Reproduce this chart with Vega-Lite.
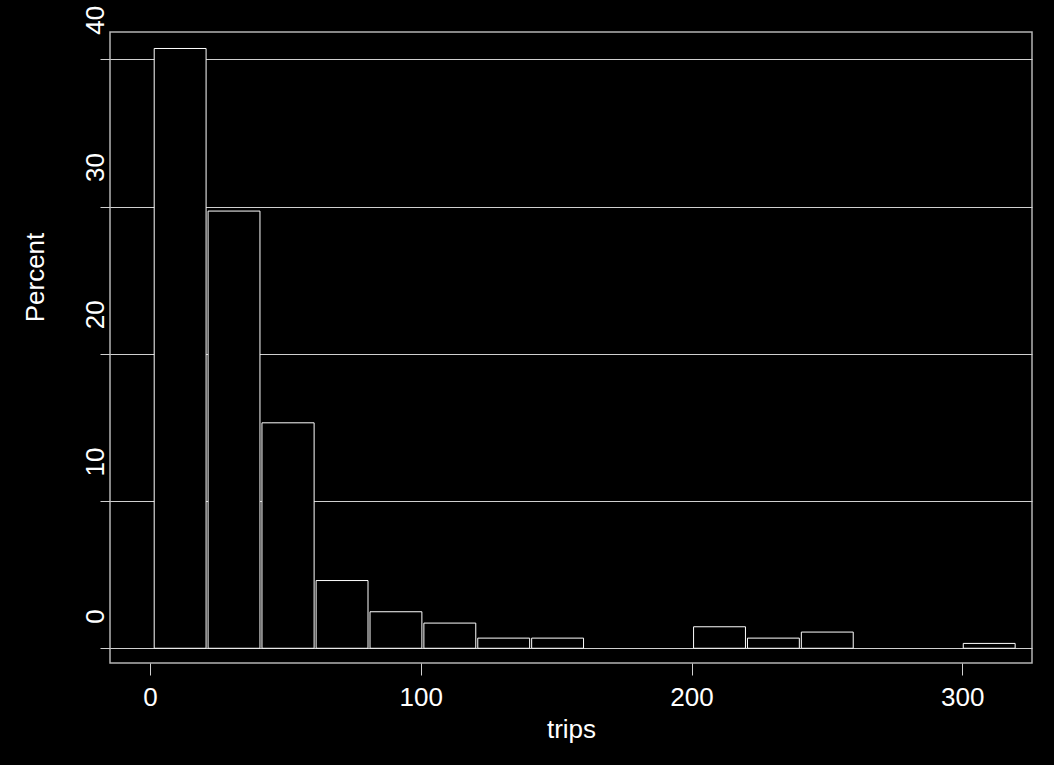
{
  "$schema": "https://vega.github.io/schema/vega-lite/v6.json",
  "autosize": "none",
  "width": 922,
  "height": 631,
  "padding": {"left": 110, "top": 32, "right": 22, "bottom": 102},
  "background": "black",
  "config": {
    "view": {"stroke": "#b4b4b4", "strokeWidth": 1.5, "fill": "black"},
    "font": "Liberation Sans"
  },
  "data": {
    "values": [
      {"bin_start": 1.0, "bin_end": 20.9, "percent": 40.73},
      {"bin_start": 20.9, "bin_end": 40.8, "percent": 29.69},
      {"bin_start": 40.8, "bin_end": 60.8, "percent": 15.31},
      {"bin_start": 60.8, "bin_end": 80.7, "percent": 4.6},
      {"bin_start": 80.7, "bin_end": 100.6, "percent": 2.48},
      {"bin_start": 100.6, "bin_end": 120.5, "percent": 1.71},
      {"bin_start": 120.5, "bin_end": 140.4, "percent": 0.69},
      {"bin_start": 140.4, "bin_end": 160.3, "percent": 0.69},
      {"bin_start": 200.2, "bin_end": 220.1, "percent": 1.46},
      {"bin_start": 220.1, "bin_end": 240.0, "percent": 0.69},
      {"bin_start": 240.0, "bin_end": 259.9, "percent": 1.1},
      {"bin_start": 299.8, "bin_end": 319.7, "percent": 0.33}
    ]
  },
  "mark": {"type": "bar", "fill": "black", "stroke": "white", "strokeWidth": 1, "binSpacing": 2},
  "encoding": {
    "x": {
      "field": "bin_start",
      "type": "quantitative",
      "bin": "binned",
      "scale": {"domain": [-14.77, 325.74], "nice": false, "zero": false},
      "axis": {
        "title": "trips",
        "values": [0, 100, 200, 300],
        "grid": false,
        "domain": false,
        "tickColor": "#d0d0d0",
        "tickSize": 12,
        "labelColor": "white",
        "labelFontSize": 26,
        "labelBaseline": "alphabetic",
        "labelPadding": 30,
        "labelFlush": false,
        "titleColor": "white",
        "titleFontSize": 26,
        "titleFontWeight": "normal",
        "titleBaseline": "alphabetic",
        "titleY": 74
      }
    },
    "x2": {"field": "bin_end"},
    "y": {
      "field": "percent",
      "type": "quantitative",
      "scale": {"domain": [-1.0, 41.85], "nice": false, "zero": false},
      "axis": {
        "title": "Percent",
        "values": [0, 10, 20, 30, 40],
        "grid": true,
        "gridColor": "#d0d0d0",
        "gridWidth": 1,
        "domain": false,
        "tickColor": "#d0d0d0",
        "tickSize": 10,
        "labelColor": "white",
        "labelFontSize": 26,
        "labelAngle": -90,
        "labelAlign": "left",
        "labelBaseline": "alphabetic",
        "labelPadding": -3,
        "labelOffset": -25,
        "labelFlush": false,
        "labelOverlap": false,
        "titleColor": "white",
        "titleFontSize": 26,
        "titleFontWeight": "normal",
        "titleAngle": -90,
        "titleAlign": "center",
        "titleBaseline": "alphabetic",
        "titleX": -66.7,
        "titleY": 245
      }
    },
    "y2": {"datum": 0}
  }
}
